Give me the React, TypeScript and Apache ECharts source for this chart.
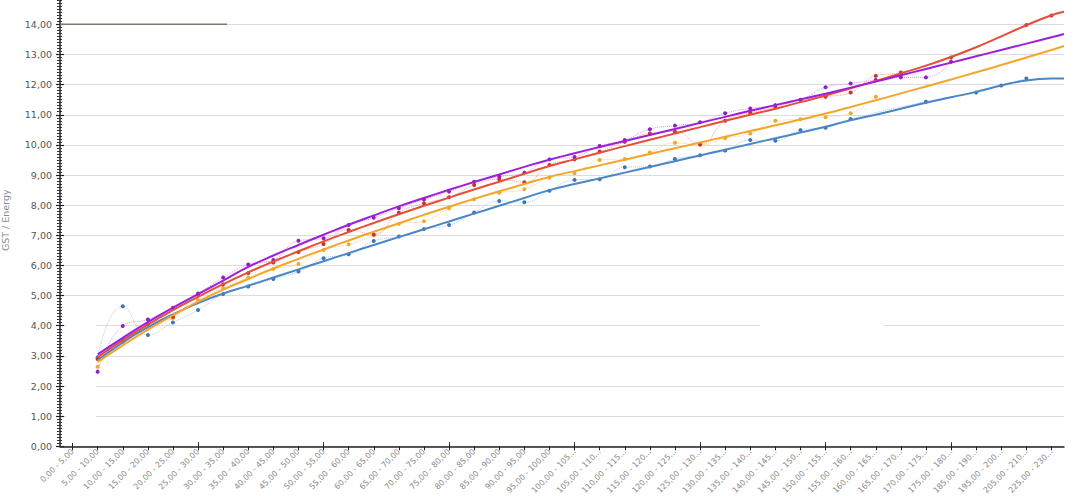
import React, { useEffect, useRef } from "react";
import * as echarts from "echarts";

const categories = [
  "0,00 - 5,00", "5,00 - 10,00", "10,00 - 15,00", "15,00 - 20,00", "20,00 - 25,00",
  "25,00 - 30,00", "30,00 - 35,00", "35,00 - 40,00", "40,00 - 45,00", "45,00 - 50,00",
  "50,00 - 55,00", "55,00 - 60,00", "60,00 - 65,00", "65,00 - 70,00", "70,00 - 75,00",
  "75,00 - 80,00", "80,00 - 85,00", "85,00 - 90,00", "90,00 - 95,00", "95,00 - 100,00",
  "100,00 - 105,00", "105,00 - 110,00", "110,00 - 115,00", "115,00 - 120,00", "120,00 - 125,00",
  "125,00 - 130,00", "130,00 - 135,00", "135,00 - 140,00", "140,00 - 145,00", "145,00 - 150,00",
  "150,00 - 155,00", "155,00 - 160,00", "160,00 - 165,00", "165,00 - 170,00", "170,00 - 175,00",
  "175,00 - 180,00", "185,00 - 190,00", "195,00 - 200,00", "205,00 - 210,00", "225,00 - 230,00",
];

const blueValues = [null, 2.95, 4.65, 3.69, 4.11, 4.52, 5.05, 5.3, 5.55, 5.8, 6.24, 6.37, 6.81, 6.96, 7.21, 7.34, 7.76, 8.14, 8.1, 8.48, 8.84, 8.86, 9.26, 9.28, 9.53, 9.66, 9.81, 10.16, 10.14, 10.49, 10.57, 10.86, null, null, 11.43, null, 11.74, 11.97, 12.2, null];
const orangeValues = [null, 2.64, 3.45, 3.9, 4.25, 4.85, 5.25, 5.6, 5.88, 6.05, 6.51, 6.7, 7.0, 7.38, 7.47, 7.9, 8.2, 8.41, 8.53, 8.92, 9.06, 9.5, 9.53, 9.75, 10.07, 10.0, 10.22, 10.38, 10.8, 10.85, 10.92, 11.05, 11.6, null, null, null, null, null, null, null];
const redValues = [null, 2.9, 3.53, 4.06, 4.3, 5.02, 5.38, 5.75, 6.1, 6.45, 6.71, 7.18, 7.03, 7.75, 8.06, 8.26, 8.67, 8.86, 8.76, 9.33, 9.52, 9.78, 10.1, 10.38, 10.44, 10.02, 10.8, 11.07, 11.25, 11.49, 11.6, 11.74, 12.29, 12.4, null, 12.9, null, null, 13.98, 14.29];
const purpleValues = [null, 2.47, 3.99, 4.21, 4.6, 5.07, 5.6, 6.03, 6.18, 6.82, 6.9, 7.34, 7.58, 7.9, 8.19, 8.45, 8.78, 8.95, 9.08, 9.52, 9.6, 9.96, 10.16, 10.52, 10.64, 10.75, 11.05, 11.21, 11.32, 11.5, 11.91, 12.04, 12.15, 12.24, 12.24, 12.76, null, null, null, null];

// trend lines read at each category centre, plus the value at the right edge of the plot
const blueTrend = [null, 2.85, 3.45, 3.95, 4.38, 4.75, 5.07, 5.33, 5.6, 5.87, 6.14, 6.41, 6.68, 6.94, 7.2, 7.46, 7.72, 7.98, 8.24, 8.5, 8.7, 8.89, 9.08, 9.27, 9.46, 9.65, 9.84, 10.03, 10.22, 10.41, 10.6, 10.82, 11.0, 11.2, 11.4, 11.58, 11.76, 11.97, 12.14, 12.2];
const blueTrendEnd = 12.2;
const orangeTrend = [null, 2.8, 3.35, 3.87, 4.35, 4.8, 5.2, 5.55, 5.9, 6.22, 6.53, 6.83, 7.12, 7.4, 7.68, 7.95, 8.21, 8.46, 8.7, 8.94, 9.13, 9.32, 9.51, 9.7, 9.89, 10.08, 10.27, 10.46, 10.65, 10.84, 11.04, 11.26, 11.48, 11.71, 11.94, 12.17, 12.41, 12.65, 12.9, 13.15];
const orangeTrendEnd = 13.28;
const redTrend = [null, 2.96, 3.52, 4.04, 4.52, 4.96, 5.38, 5.77, 6.13, 6.47, 6.8, 7.11, 7.41, 7.7, 7.98, 8.25, 8.52, 8.78, 9.04, 9.3, 9.52, 9.74, 9.96, 10.17, 10.38, 10.59, 10.8, 11.0, 11.2, 11.42, 11.64, 11.88, 12.12, 12.37, 12.63, 12.92, 13.24, 13.6, 13.97, 14.3];
const redTrendEnd = 14.42;
const purpleTrend = [null, 3.05, 3.6, 4.12, 4.6, 5.05, 5.5, 5.95, 6.33, 6.68, 7.02, 7.35, 7.66, 7.96, 8.24, 8.51, 8.77, 9.02, 9.27, 9.51, 9.72, 9.93, 10.13, 10.33, 10.53, 10.73, 10.93, 11.13, 11.32, 11.51, 11.7, 11.9, 12.1, 12.31, 12.52, 12.73, 12.94, 13.15, 13.36, 13.57];
const purpleTrendEnd = 13.68;

const FONT = "DejaVu Sans, Verdana, sans-serif";

function trendData(values: (number | null)[], end: number) {
  const pts: [number, number][] = [];
  values.forEach((v, i) => {
    if (v !== null) pts.push([i, v]);
  });
  pts.push([values.length - 0.5, end]);
  return pts;
}

function fmtY(v: number) {
  return v.toFixed(2).replace(".", ",");
}

function fmtX(s: string) {
  return s.length > 14 ? s.slice(0, 12) + "..." : s;
}

export default function App() {
  const ref = useRef<HTMLDivElement>(null);

  useEffect(() => {
    if (!ref.current) return;
    const chart = echarts.init(ref.current, undefined, { renderer: "svg" });

    const dataSeries = (name: string, data: (number | null)[], line: string, dot: string) => ({
      name,
      type: "line",
      xAxisIndex: 0,
      yAxisIndex: 0,
      data,
      smooth: true,
      connectNulls: true,
      symbol: "circle",
      symbolSize: 4,
      itemStyle: { color: dot },
      lineStyle: { color: line, width: 1, type: "dotted" },
      z: 3,
    });
    const trendSeries = (name: string, values: (number | null)[], end: number, color: string) => ({
      name,
      type: "line",
      xAxisIndex: 2,
      yAxisIndex: 0,
      data: trendData(values, end),
      smooth: true,
      showSymbol: false,
      symbol: "none",
      lineStyle: { color, width: 2 },
      z: 4,
    });

    chart.setOption({
      animation: false,
      backgroundColor: "#ffffff",
      grid: {
        left: 60,
        right: 16,
        top: -5.8,
        bottom: 49.7,
        containLabel: false,
        outerBoundsMode: "none",
      },
      xAxis: [
        {
          type: "category",
          data: categories,
          boundaryGap: true,
          axisLine: { show: true, onZero: false, lineStyle: { color: "#222", width: 1.5 } },
          axisTick: { show: true, alignWithLabel: true, length: 4, lineStyle: { color: "#222" } },
          axisLabel: {
            interval: 0,
            rotate: 45,
            margin: 4,
            fontSize: 8,
            fontFamily: FONT,
            color: "#8a8a8a",
            formatter: fmtX,
          },
          splitLine: { show: false },
        },
        {
          type: "category",
          data: categories,
          boundaryGap: true,
          position: "bottom",
          axisLine: { show: false, onZero: false },
          axisTick: { show: true, inside: true, alignWithLabel: true, length: 4, lineStyle: { color: "#222" } },
          axisLabel: { show: false },
          splitLine: { show: false },
        },
        { type: "value", min: -0.5, max: 39.5, show: false },
      ],
      yAxis: [
        {
          type: "value",
          min: 0,
          max: 15,
          interval: 1,
          position: "left",
          name: "GST / Energy",
          nameLocation: "middle",
          nameGap: 50,
          nameTextStyle: { fontSize: 9.5, fontFamily: FONT, color: "#8a8a8a" },
          axisLine: { show: true, onZero: false, lineStyle: { color: "#222", width: 1.5 } },
          axisTick: { show: true, length: 4, lineStyle: { color: "#222", width: 1.2 } },
          minorTick: { show: true, splitNumber: 10, length: 3, lineStyle: { color: "#333", width: 1 } },
          axisLabel: {
            fontSize: 9.5,
            fontFamily: FONT,
            color: "#555",
            margin: 8,
            showMaxLabel: false,
            formatter: fmtY,
          },
          splitLine: { show: true, lineStyle: { color: "#dcdcdc", width: 1.2 } },
        },
        {
          type: "value",
          min: 0,
          max: 15,
          interval: 1,
          position: "left",
          offset: 0,
          axisLine: { show: false, onZero: false },
          axisTick: { show: true, inside: true, length: 4, lineStyle: { color: "#222", width: 1.2 } },
          minorTick: { show: true, splitNumber: 10, length: 2, lineStyle: { color: "#333", width: 1 } },
          axisLabel: { show: false },
          splitLine: { show: false },
        },
      ],
      graphic: [
        {
          type: "rect",
          shape: { x: 66, y: 306, width: 30, height: 137 },
          style: { fill: "#ffffff" },
          z: 1,
          silent: true,
        },
        {
          type: "rect",
          shape: { x: 760, y: 323, width: 124, height: 6 },
          style: { fill: "#ffffff" },
          z: 1,
          silent: true,
        },
        {
          type: "line",
          shape: { x1: 60, y1: 24.3, x2: 227, y2: 24.3 },
          style: { stroke: "#807670", lineWidth: 1.5 },
          z: 5,
          silent: true,
        },
      ],
      series: [
        dataSeries("Blue", blueValues, "#a9cbee", "#3f74b5"),
        dataSeries("Orange", orangeValues, "#f9d48a", "#f0a830"),
        dataSeries("Red", redValues, "#f3a29a", "#c9302f"),
        dataSeries("Purple", purpleValues, "#ea8ef0", "#8d1fc4"),
        trendSeries("Blue trend", blueTrend, blueTrendEnd, "#4a86c8"),
        trendSeries("Orange trend", orangeTrend, orangeTrendEnd, "#f4a62a"),
        trendSeries("Red trend", redTrend, redTrendEnd, "#e64e3a"),
        trendSeries("Purple trend", purpleTrend, purpleTrendEnd, "#9b1fdc"),
      ],
    });

    return () => chart.dispose();
  }, []);

  return (
    <div
      ref={ref}
      style={{ position: "fixed", left: 0, top: 0, width: 1080, height: 496, background: "#fff" }}
    />
  );
}
